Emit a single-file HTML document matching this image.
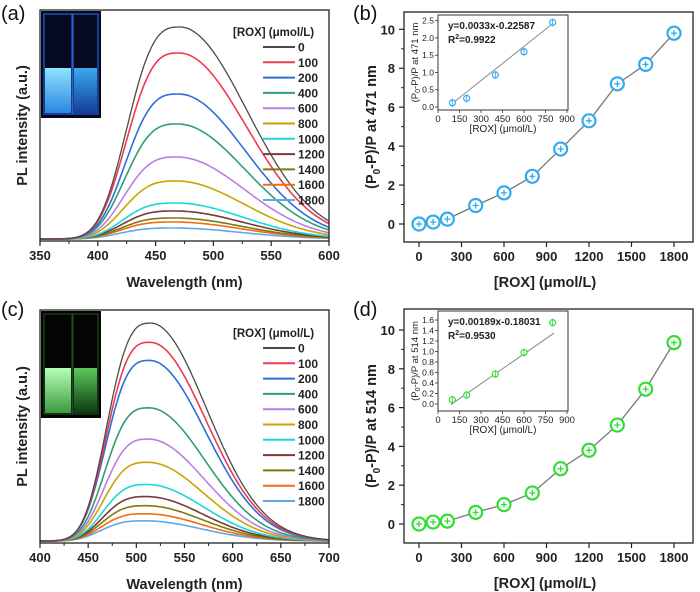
<!DOCTYPE html>
<html><head><meta charset="utf-8"><style>
body{margin:0;background:#fff;}
svg{display:block;font-family:"Liberation Sans",Arial,sans-serif;}
.t{font-weight:bold;font-size:13px;fill:#222;}
.ti{font-weight:bold;font-size:14.5px;fill:#222;}
.lg{font-weight:bold;font-size:12px;fill:#222;}
.sm{font-size:9.5px;fill:#222;}
.smb{font-weight:bold;font-size:10px;fill:#222;}
</style></head><body>
<svg id="fig" width="700" height="592" viewBox="0 0 700 592" xmlns="http://www.w3.org/2000/svg">
<defs>
<linearGradient id="liqA" x1="0" y1="0" x2="0" y2="1"><stop offset="0" stop-color="#8fe4ff"/><stop offset="1" stop-color="#2a86e0"/></linearGradient>
<linearGradient id="liqA2" x1="0" y1="0" x2="0" y2="1"><stop offset="0" stop-color="#3aa8ee"/><stop offset="1" stop-color="#123e9a"/></linearGradient>
<linearGradient id="liqC" x1="0" y1="0" x2="0" y2="1"><stop offset="0" stop-color="#b8ffb8"/><stop offset="1" stop-color="#3c9a3c"/></linearGradient>
<linearGradient id="liqC2" x1="0" y1="0" x2="0" y2="1"><stop offset="0" stop-color="#5cc85c"/><stop offset="1" stop-color="#0c3a10"/></linearGradient>
</defs>
</svg>
<script>
// ---------- data ----------
const concentrations = [0,100,200,400,600,800,1000,1200,1400,1600,1800];
const legendLabels = ["0","100","200","400","600","800","1000","1200","1400","1600","1800"];
const seriesColors = ["#4a4a4a","#ee3b4c","#2a6fd8","#2f9e72","#b97fe2","#c9a400","#18d8d8","#7a3838","#7d7a10","#f26c12","#5ea8e6"];
const peakA = [212,186,145,115,82,58,36,28,21,17,11];
const peakC = [216,197,179,132,101,78,56,44,35,27,20];
const peakWlA = 471, peakWlC = 515;
const xTicksA = [350,400,450,500,550,600];
const xTicksC = [400,450,500,550,600,650,700];
const xTicksB = [0,300,600,900,1200,1500,1800];
const yTicksB = [0,2,4,6,8,10];
const quenchB = [0,0.1,0.25,0.95,1.6,2.45,3.85,5.3,7.2,8.2,9.8];
const errB = [0.05,0.15,0.15,0.12,0.1,0.12,0.15,0.15,0.12,0.15,0.15];
const quenchD = [0,0.1,0.15,0.6,1.0,1.6,2.85,3.8,5.1,6.95,9.35];
const errD = [0.05,0.15,0.15,0.15,0.12,0.12,0.1,0.12,0.15,0.1,0.1];
const insetX = [100,200,400,600,800];
const insetB = [0.12,0.25,0.93,1.6,2.45];
const insetD = [0.08,0.17,0.57,0.98,1.55];
const insetXTicks = [0,150,300,450,600,750,900];
const insetYTicksB = [0,0.5,1.0,1.5,2.0,2.5];
const insetYTicksD = [0,0.2,0.4,0.6,0.8,1.0,1.2,1.4,1.6];
const fitB = [0.0033,-0.22587];
const fitD = [0.00189,-0.18031];

const NS="http://www.w3.org/2000/svg";
const svg=document.getElementById('fig');
function mk(tag,attrs,parent,text){const e=document.createElementNS(NS,tag);for(const k in attrs)e.setAttribute(k,attrs[k]);if(text!==undefined)e.textContent=text;(parent||svg).appendChild(e);return e;}
function lin(d0,d1,r0,r1){return v=>r0+(v-d0)*(r1-r0)/(d1-d0);}

function spectrum(wl,peak,pk){const d=wl-pk;if(d<0){return peak*Math.exp(-Math.pow(-d/53,3));}return peak*Math.exp(-d*d/(2*58*58));}

function spectraPanel(oy,T,B,xmin,xmax,xticks,peaks,pkwl,label,photo,legY){
  const g=mk('g',{});
  
  
  const L=40,R=329;
  const sx=lin(xmin,xmax,L,R), sy=lin(0,229,B-2,T);
  // photo
  const ph=mk('g',{},g);
  
  
  mk('rect',{x:L+1,y:T+1,width:60,height:107,fill:photo==='a'?'#050a22':'#030503'},ph);
  const f1=photo==='a'?'url(#liqA)':'url(#liqC)', f2=photo==='a'?'url(#liqA2)':'url(#liqC2)';
  const edge=photo==='a'?'#2a60d0':'#1d4a1d';
  mk('rect',{x:L+4,y:T+4,width:28,height:100,fill:'none',stroke:edge,'stroke-width':1.2},ph);
  mk('rect',{x:L+33,y:T+4,width:25,height:100,fill:'none',stroke:edge,'stroke-width':1.2},ph);
  mk('rect',{x:L+5,y:T+58,width:26,height:45,fill:f1},ph);
  mk('rect',{x:L+34,y:T+58,width:23,height:45,fill:f2},ph);
  // curves
  for(let i=peaks.length-1;i>=0;i--){
    let d='';
    const pk=pkwl-(i*0.6);
    for(let w=xmin;w<=xmax;w+=2){d+=(w===xmin?'M':'L')+sx(w).toFixed(1)+','+sy(spectrum(w,peaks[i],pk)).toFixed(1);}
    const p=mk('path',{d:d,fill:'none',stroke:seriesColors[i],'stroke-width':i===0?1.3:1.6},g);
    
    
  }
  mk('rect',{x:L,y:T,width:R-L,height:B-T,fill:'none',stroke:'#222','stroke-width':1.3},g);
  xticks.forEach((v,k)=>{const x=sx(v);mk('line',{x1:x,y1:B,x2:x,y2:B+5,stroke:'#222','stroke-width':1.2},g);
    if(k<xticks.length-1){const xm=sx(v+(xticks[1]-xticks[0])/2);mk('line',{x1:xm,y1:B,x2:xm,y2:B+3,stroke:'#222','stroke-width':1},g);}
    const t=mk('text',{x:x,y:B+19,'text-anchor':'middle',class:'t'},g,String(v));
    });
  const xt=mk('text',{x:(L+R)/2,y:B+46,'text-anchor':'middle',class:'ti'},g,'Wavelength (nm)');
  
  const yt=mk('text',{x:0,y:0,'text-anchor':'middle',class:'ti',transform:`translate(27,${(T+B)/2}) rotate(-90)`},g,'PL intensity (a.u.)');
  
  const pl=mk('text',{x:1,y:oy+20,style:'font-size:20px;fill:#111'},g,'('+label+')');
  
  const lg=mk('g',{},g);
  
  mk('text',{x:233,y:legY-11,class:'lg',style:'font-size:11.5px'},lg,'[ROX] (\u03bcmol/L)');
  legendLabels.forEach((s,i)=>{const y=legY+i*15.3;
    const e=mk('g',{},lg);
    mk('line',{x1:263,y1:y,x2:295,y2:y,stroke:seriesColors[i],'stroke-width':2},e);
    mk('text',{x:298,y:y+4.5,class:'lg'},e,s);});
}

function quenchPanel(oy,T,B,yZeroPx,yTenPx,vals,errs,color,label,wl,ins){
  const g=mk('g',{});
  
  
  const L=404,R=693;
  const sx=lin(0,1800,419,674), sy=lin(0,10,yZeroPx,yTenPx);
  let d='';vals.forEach((v,i)=>{d+=(i?'L':'M')+sx(concentrations[i])+','+sy(v);});
  const ln=mk('path',{d:d,fill:'none',stroke:'#777','stroke-width':1.3},g);
  
  vals.forEach((v,i)=>{const x=sx(concentrations[i]),y=sy(v);
    const pt=mk('g',{},g);
    mk('circle',{cx:x,cy:y,r:6.5,fill:'#fff',stroke:color,'stroke-width':2.2},pt);
    const e=Math.max(3,errs[i]*19.5);
    mk('line',{x1:x,y1:y-e,x2:x,y2:y+e,stroke:color,'stroke-width':1.3},pt);
    mk('line',{x1:x-3,y1:y,x2:x+3,y2:y,stroke:color,'stroke-width':1.3},pt);});
  mk('rect',{x:L,y:T,width:R-L,height:B-T,fill:'none',stroke:'#222','stroke-width':1.3},g);
  xTicksB.forEach(v=>{const x=sx(v);mk('line',{x1:x,y1:B,x2:x,y2:B+5,stroke:'#222','stroke-width':1.2},g);
    const t=mk('text',{x:x,y:B+19,'text-anchor':'middle',class:'t'},g,String(v));});
  yTicksB.forEach(v=>{const y=sy(v);mk('line',{x1:L-5,y1:y,x2:L,y2:y,stroke:'#222','stroke-width':1.2},g);
    const t=mk('text',{x:L-9,y:y+5,'text-anchor':'end',class:'t'},g,String(v));
    if(v<10){const ym=sy(v+1);mk('line',{x1:L-3,y1:ym,x2:L,y2:ym,stroke:'#222','stroke-width':1},g);}});
  const xt=mk('text',{x:545,y:B+45,'text-anchor':'middle',class:'ti'},g,'[ROX] (\u03bcmol/L)');
  
  const yt=mk('text',{x:0,y:0,'text-anchor':'middle',class:'ti',transform:`translate(376,${(T+B)/2}) rotate(-90)`},g);
  yt.innerHTML='(P<tspan dy="4" style="font-size:10px">0</tspan><tspan dy="-4">-P)/P at '+wl+' nm</tspan>';
  
  const pl=mk('text',{x:353,y:oy+20,style:'font-size:20px;fill:#111'},g,'('+label+')');
  
  const ig=mk('g',{},g);
  const iL=438,iR=568,iT=oy+ins.top,iB=oy+ins.bot;
  const ix=lin(0,900,438,567), iy=lin(0,ins.ymax,oy+ins.y0,oy+ins.y1);
  mk('rect',{x:iL,y:iT,width:iR-iL,height:iB-iT,fill:'#fff',stroke:'#333','stroke-width':1},ig);
  const fl=mk('line',{x1:ix(90),y1:iy(ins.fit[0]*90+ins.fit[1]),x2:ix(810),y2:iy(ins.fit[0]*810+ins.fit[1]),stroke:'#888','stroke-width':1},ig);
  
  ins.vals.forEach((v,i)=>{const x=ix(insetX[i]),y=iy(v);
    const c=mk('circle',{cx:x,cy:y,r:3,fill:'#fff',stroke:color,'stroke-width':1.2},ig);
    
    mk('line',{x1:x,y1:y-4,x2:x,y2:y+4,stroke:color,'stroke-width':0.9},ig);});
  insetXTicks.forEach(v=>{const x=ix(v);mk('line',{x1:x,y1:iB,x2:x,y2:iB+3,stroke:'#333','stroke-width':0.8},ig);
    mk('text',{x:x,y:iB+12,'text-anchor':'middle',class:'sm'},ig,String(v));});
  ins.yt.forEach(v=>{const y=iy(v);mk('line',{x1:iL-3,y1:y,x2:iL,y2:y,stroke:'#333','stroke-width':0.8},ig);
    mk('text',{x:iL-4,y:y+3,'text-anchor':'end',class:'sm',style:'font-size:8.5px'},ig,v.toFixed(1));});
  mk('text',{x:(iL+iR)/2,y:iB+22,'text-anchor':'middle',class:'sm',style:'font-size:10px'},ig,'[ROX] (\u03bcmol/L)');
  const iyt=mk('text',{x:0,y:0,'text-anchor':'middle',class:'sm',style:'font-size:9.5px',transform:`translate(${iL-20},${(iT+iB)/2}) rotate(-90)`},ig);
  iyt.innerHTML='(P<tspan dy="2" style="font-size:7px">0</tspan><tspan dy="-2">-P)/P at '+wl+' nm</tspan>';
  mk('text',{x:448,y:iT+14,class:'smb'},ig,'y='+ins.fit[0]+'x'+ins.fit[1]);
  const r2=mk('text',{x:448,y:iT+28,class:'smb'},ig);r2.innerHTML='R<tspan dy="-4" style="font-size:7px">2</tspan><tspan dy="4">='+ins.r2+'</tspan>';
}

spectraPanel(0,10,241,350,600,xTicksA,peakA,peakWlA,'a','a',47);
spectraPanel(296,310,543,400,700,xTicksC,peakC,peakWlC,'c','c',348);
quenchPanel(0,12,242,224,29.3,quenchB,errB,'#33aaee','b','471',{top:15,bot:110,y0:107,y1:20.7,ymax:2.5,vals:insetB,yt:insetYTicksB,fit:fitB,r2:'0.9922'});
quenchPanel(296,309,543,524,330,quenchD,errD,'#33dd33','d','514',{top:15,bot:115,y0:108,y1:24,ymax:1.6,vals:insetD,yt:insetYTicksD,fit:fitD,r2:'0.9530'});
</script>
</body></html>
